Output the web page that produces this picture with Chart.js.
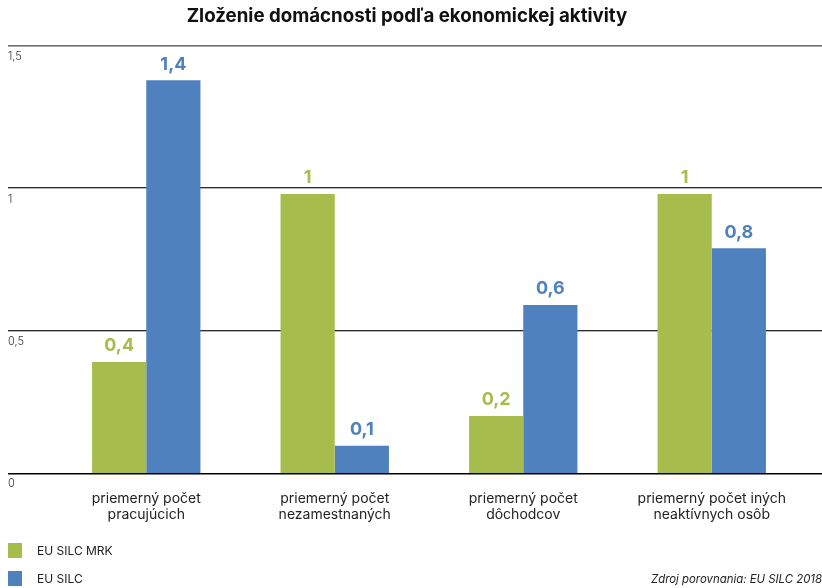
<!DOCTYPE html>
<html>
<head>
<meta charset="utf-8">
<script src="https://cdn.jsdelivr.net/npm/chart.js@4/dist/chart.umd.min.js"></script>
<style>
  html, body { margin: 0; padding: 0; background: #ffffff; }
  #wrap { width: 822px; height: 588px; }
</style>
</head>
<body>
<div id="wrap"><canvas id="c" width="822" height="588"></canvas></div>
<script>
// ---- data ----
const titleText = "Zloženie domácnosti podľa ekonomickej aktivity";
const sourceText = "Zdroj porovnania: EU SILC 2018";
const categories = [
  ["priemerný počet", "pracujúcich"],
  ["priemerný počet", "nezamestnaných"],
  ["priemerný počet", "dôchodcov"],
  ["priemerný počet iných", "neaktívnych osôb"]
];
const seriesNames = ["EU SILC MRK", "EU SILC"];
const seriesColors = ["#a6bc4c", "#4f81bf"];
const mrkValues = [0.39, 0.98, 0.2, 0.98];
const silcValues = [1.38, 0.096, 0.59, 0.79];
const yTicks = [0, 0.5, 1, 1.5];
const yTickLabels = ["0", "0,5", "1", "1,5"];

const FONT = "Inter, 'Liberation Sans', sans-serif";

function fmt(v) {
  return String(Number(v.toFixed(1))).replace('.', ',');
}

const gridPlugin = {
  id: 'fullGrid',
  beforeDatasetsDraw(chart) {
    const y = chart.scales.y;
    const ctx = chart.ctx;
    ctx.save();
    yTicks.forEach(v => {
      if (v === 0) return;
      const py = Math.round(y.getPixelForValue(v));
      if (v === yTicks[yTicks.length - 1]) {
        ctx.fillStyle = '#6e6e6e';
        ctx.fillRect(8, py - 1, 814, 1);
        ctx.fillStyle = '#a8a8a8';
        ctx.fillRect(8, py, 814, 1);
      } else {
        ctx.fillStyle = '#2e2e2e';
        ctx.fillRect(8, py - 1, 814, 1);
        ctx.fillStyle = '#b4b4b4';
        ctx.fillRect(8, py, 814, 1);
      }
    });
    ctx.restore();
  },
  afterDatasetsDraw(chart) {
    const y = chart.scales.y;
    const ctx = chart.ctx;
    ctx.save();
    const p0 = Math.round(y.getPixelForValue(0));
    ctx.fillStyle = '#000000';
    ctx.fillRect(8, p0, 814, 1.5);
    // value labels
    chart.data.datasets.forEach((ds, di) => {
      const meta = chart.getDatasetMeta(di);
      meta.data.forEach((el, i) => {
        ctx.font = "700 18px " + FONT;
        ctx.fillStyle = ds.backgroundColor;
        ctx.textAlign = 'center';
        ctx.textBaseline = 'bottom';
        ctx.fillText(fmt(ds.data[i]), el.x, el.y - 7);
      });
    });
    // legend
    chart.data.datasets.forEach((ds, di) => {
      const cy = 550 + di * 28;
      ctx.fillStyle = ds.backgroundColor;
      ctx.fillRect(8, cy - 7, 14, 15);
      ctx.font = "400 12px " + FONT;
      ctx.fillStyle = '#222222';
      ctx.textAlign = 'left';
      ctx.textBaseline = 'middle';
      ctx.fillText(ds.label, 37, cy + 1);
    });
    // source
    ctx.font = "italic 400 11.4px " + FONT;
    ctx.fillStyle = '#222222';
    ctx.textAlign = 'left';
    ctx.textBaseline = 'middle';
    ctx.fillText(sourceText, 651, 580);
    ctx.restore();
  }
};

new Chart(document.getElementById('c'), {
  type: 'bar',
  data: {
    labels: categories,
    datasets: [
      { label: seriesNames[0], data: mrkValues, backgroundColor: seriesColors[0], borderWidth: 0 },
      { label: seriesNames[1], data: silcValues, backgroundColor: seriesColors[1], borderWidth: 0 }
    ]
  },
  options: {
    responsive: false,
    devicePixelRatio: 1,
    animation: false,
    layout: { padding: { left: 8, right: 16, top: 0, bottom: 55 } },
    datasets: { bar: { categoryPercentage: 0.575, barPercentage: 1.0 } },
    plugins: {
      legend: { display: false },
      tooltip: { enabled: false },
      title: {
        display: true,
        text: titleText,
        color: '#111111',
        font: { family: FONT, size: 18.7, weight: '700', lineHeight: 1.2 },
        padding: { top: 5.5, bottom: 18.1 }
      }
    },
    scales: {
      x: {
        grid: { display: false },
        border: { display: false },
        ticks: {
          color: '#222222',
          font: { family: FONT, size: 14, weight: '400', lineHeight: 1.2 },
          padding: 9,
          maxRotation: 0,
          autoSkip: false
        },
        afterFit(scale) { scale.height = 60; }
      },
      y: {
        min: 0,
        max: 1.5,
        grid: { display: false },
        border: { display: false },
        afterBuildTicks(scale) { scale.ticks = yTicks.map(v => ({ value: v })); },
        afterFit(scale) { scale.width = 44; },
        ticks: {
          crossAlign: 'far',
          labelOffset: 11,
          color: '#333333',
          font: { family: FONT, size: 11, weight: '300' },
          callback(value) {
            const i = yTicks.indexOf(value);
            return i >= 0 ? yTickLabels[i] : '';
          }
        }
      }
    }
  },
  plugins: [gridPlugin]
});
</script>
</body>
</html>
